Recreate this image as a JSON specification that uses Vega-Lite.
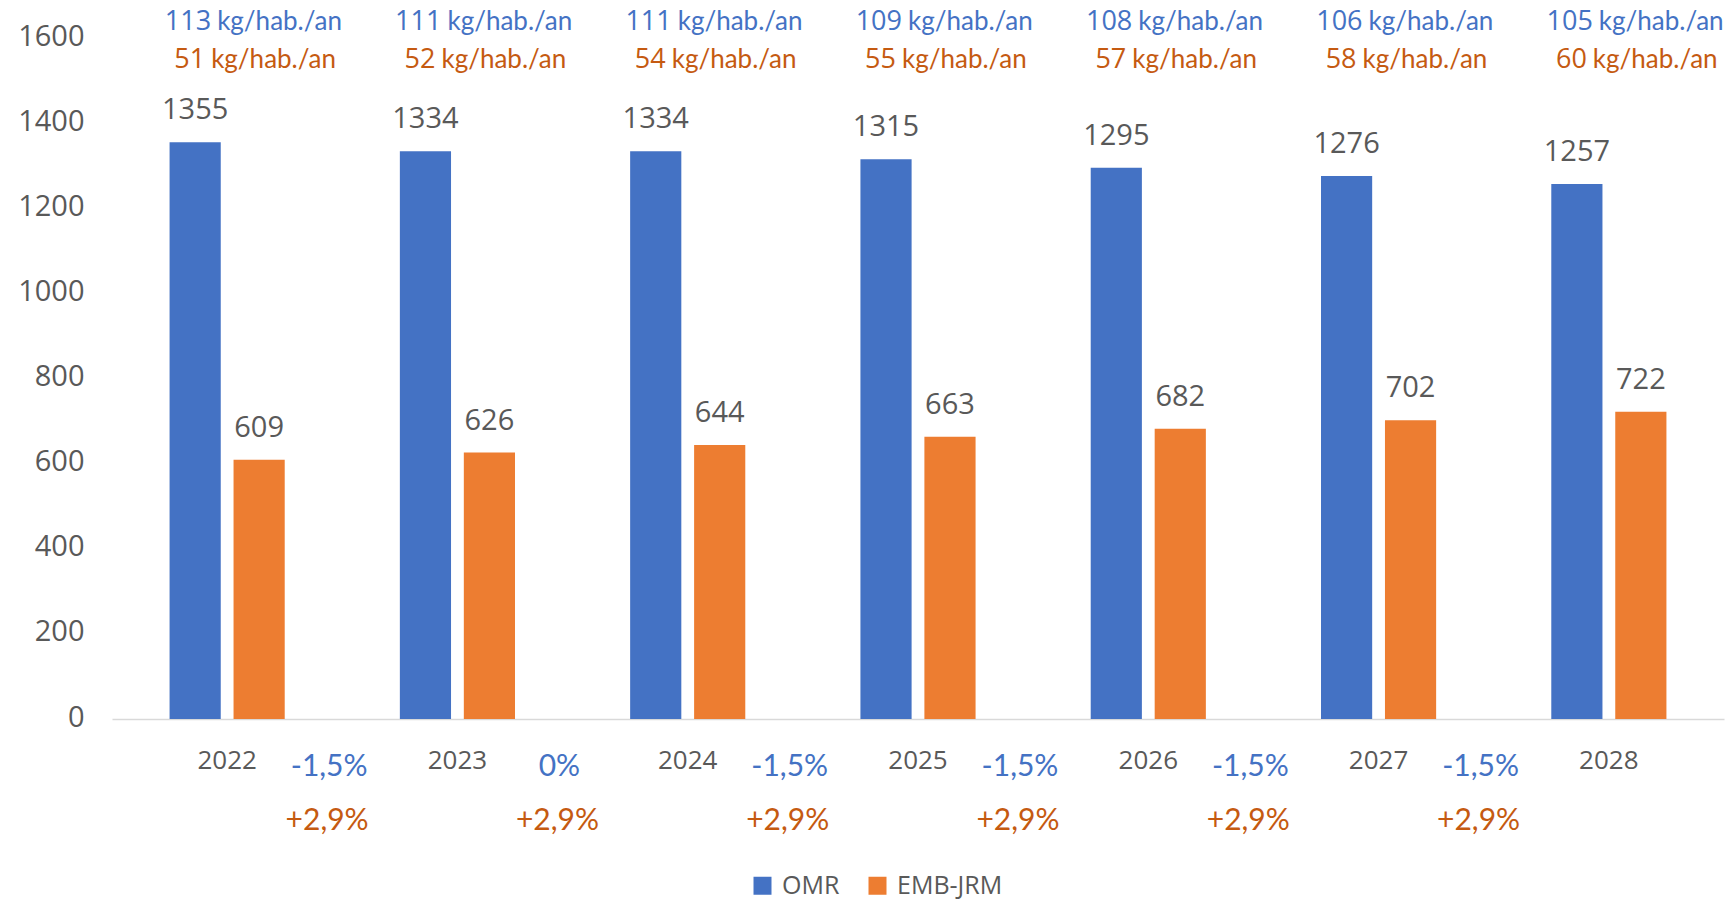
{
  "$schema": "https://vega.github.io/schema/vega-lite/v6.json",
  "autosize": "none",
  "padding": {"left": 112, "top": 38, "right": 2, "bottom": 184},
  "width": 1612,
  "height": 681,
  "background": "white",
  "config": {
    "view": {"stroke": null},
    "font": "Open Sans"
  },
  "datasets": {
    "bars": [
      {"year": "2022", "series": "OMR", "value": 1355},
      {"year": "2022", "series": "EMB-JRM", "value": 609},
      {"year": "2023", "series": "OMR", "value": 1334},
      {"year": "2023", "series": "EMB-JRM", "value": 626},
      {"year": "2024", "series": "OMR", "value": 1334},
      {"year": "2024", "series": "EMB-JRM", "value": 644},
      {"year": "2025", "series": "OMR", "value": 1315},
      {"year": "2025", "series": "EMB-JRM", "value": 663},
      {"year": "2026", "series": "OMR", "value": 1295},
      {"year": "2026", "series": "EMB-JRM", "value": 682},
      {"year": "2027", "series": "OMR", "value": 1276},
      {"year": "2027", "series": "EMB-JRM", "value": 702},
      {"year": "2028", "series": "OMR", "value": 1257},
      {"year": "2028", "series": "EMB-JRM", "value": 722}
    ],
    "percap": [
      {"year": "2022", "series": "OMR", "num": "113"},
      {"year": "2022", "series": "EMB-JRM", "num": "51"},
      {"year": "2023", "series": "OMR", "num": "111"},
      {"year": "2023", "series": "EMB-JRM", "num": "52"},
      {"year": "2024", "series": "OMR", "num": "111"},
      {"year": "2024", "series": "EMB-JRM", "num": "54"},
      {"year": "2025", "series": "OMR", "num": "109"},
      {"year": "2025", "series": "EMB-JRM", "num": "55"},
      {"year": "2026", "series": "OMR", "num": "108"},
      {"year": "2026", "series": "EMB-JRM", "num": "57"},
      {"year": "2027", "series": "OMR", "num": "106"},
      {"year": "2027", "series": "EMB-JRM", "num": "58"},
      {"year": "2028", "series": "OMR", "num": "105"},
      {"year": "2028", "series": "EMB-JRM", "num": "60"}
    ],
    "pct": [
      {"year": "2022", "series": "OMR", "label": "-1,5%"},
      {"year": "2022", "series": "EMB-JRM", "label": "+2,9%"},
      {"year": "2023", "series": "OMR", "label": "0%"},
      {"year": "2023", "series": "EMB-JRM", "label": "+2,9%"},
      {"year": "2024", "series": "OMR", "label": "-1,5%"},
      {"year": "2024", "series": "EMB-JRM", "label": "+2,9%"},
      {"year": "2025", "series": "OMR", "label": "-1,5%"},
      {"year": "2025", "series": "EMB-JRM", "label": "+2,9%"},
      {"year": "2026", "series": "OMR", "label": "-1,5%"},
      {"year": "2026", "series": "EMB-JRM", "label": "+2,9%"},
      {"year": "2027", "series": "OMR", "label": "-1,5%"},
      {"year": "2027", "series": "EMB-JRM", "label": "+2,9%"}
    ]
  },
  "layer": [
    {
      "data": {"name": "bars"},
      "mark": {"type": "bar"},
      "encoding": {
        "x": {
          "field": "year", "type": "nominal",
          "scale": {"paddingInner": 0.5, "paddingOuter": 0.25},
          "axis": {
            "title": null, "labelAngle": 0, "labelFont": "Open Sans", "labelFontSize": 26,
            "labelColor": "#595959", "ticks": false, "tickSize": 0, "labelPadding": 49,
            "labelBaseline": "alphabetic",
            "domainColor": "#D9D9D9", "domainWidth": 1.5
          }
        },
        "xOffset": {
          "field": "series", "type": "nominal", "sort": ["OMR", "EMB-JRM"],
          "scale": {"paddingInner": 0.2, "paddingOuter": 0}
        },
        "y": {
          "field": "value", "type": "quantitative",
          "scale": {"domain": [0, 1600], "nice": false},
          "axis": {
            "title": null, "values": [0, 200, 400, 600, 800, 1000, 1200, 1400, 1600],
            "format": "d",
            "grid": false, "domain": false, "ticks": false, "tickSize": 0,
            "labelFont": "Open Sans", "labelFontSize": 29, "labelColor": "#595959",
            "labelPadding": 28, "labelOffset": -2
          }
        },
        "color": {
          "field": "series", "type": "nominal",
          "scale": {"domain": ["OMR", "EMB-JRM"], "range": ["#4472C4", "#ED7D31"]},
          "legend": {
            "title": null, "orient": "none", "direction": "horizontal",
            "legendX": 638, "legendY": 835,
            "symbolType": "square", "symbolSize": 324, "symbolStrokeWidth": 0,
            "labelFont": "Open Sans", "labelFontSize": 25, "labelColor": "#595959",
            "labelOffset": 7, "columnPadding": 25, "padding": 0
          }
        }
      }
    },
    {
      "data": {"name": "bars"},
      "mark": {"type": "text", "font": "Open Sans", "fontSize": 29, "color": "#595959", "baseline": "alphabetic", "dy": -23},
      "encoding": {
        "x": {"field": "year", "type": "nominal"},
        "xOffset": {"field": "series", "type": "nominal", "sort": ["OMR", "EMB-JRM"]},
        "y": {"field": "value", "type": "quantitative"},
        "text": {"field": "value", "type": "quantitative"}
      }
    },
    {
      "data": {"name": "percap"},
      "transform": [{"filter": "datum.series === 'OMR'"}],
      "mark": {"type": "text", "font": "Open Sans", "fontSize": 27, "color": "#4472C4", "align": "right", "baseline": "alphabetic", "dx": -16, "dy": -8},
      "encoding": {
        "x": {"field": "year", "type": "nominal"},
        "y": {"datum": 1600},
        "text": {"field": "num"}
      }
    },
    {
      "data": {"name": "percap"},
      "transform": [{"filter": "datum.series === 'OMR'"}],
      "mark": {"type": "text", "font": "Lato", "fontSize": 26, "color": "#4472C4", "align": "left", "baseline": "alphabetic", "dx": -10, "dy": -8, "text": "kg/hab./an"},
      "encoding": {
        "x": {"field": "year", "type": "nominal"},
        "y": {"datum": 1600}
      }
    },
    {
      "data": {"name": "percap"},
      "transform": [{"filter": "datum.series === 'EMB-JRM'"}],
      "mark": {"type": "text", "font": "Open Sans", "fontSize": 27, "color": "#C55A11", "align": "right", "baseline": "alphabetic", "dx": -22, "dy": 30},
      "encoding": {
        "x": {"field": "year", "type": "nominal"},
        "y": {"datum": 1600},
        "text": {"field": "num"}
      }
    },
    {
      "data": {"name": "percap"},
      "transform": [{"filter": "datum.series === 'EMB-JRM'"}],
      "mark": {"type": "text", "font": "Lato", "fontSize": 26, "color": "#C55A11", "align": "left", "baseline": "alphabetic", "dx": -16, "dy": 30, "text": "kg/hab./an"},
      "encoding": {
        "x": {"field": "year", "type": "nominal"},
        "y": {"datum": 1600}
      }
    },
    {
      "data": {"name": "pct"},
      "transform": [{"filter": "datum.series === 'OMR'"}],
      "mark": {"type": "text", "font": "Lato", "fontSize": 30, "color": "#4472C4", "align": "center", "baseline": "middle", "dx": 102, "dy": 48},
      "encoding": {
        "x": {"field": "year", "type": "nominal"},
        "y": {"datum": 0},
        "text": {"field": "label"}
      }
    },
    {
      "data": {"name": "pct"},
      "transform": [{"filter": "datum.series === 'EMB-JRM'"}],
      "mark": {"type": "text", "font": "Lato", "fontSize": 30, "color": "#C55A11", "align": "center", "baseline": "middle", "dx": 100, "dy": 102},
      "encoding": {
        "x": {"field": "year", "type": "nominal"},
        "y": {"datum": 0},
        "text": {"field": "label"}
      }
    }
  ]
}
